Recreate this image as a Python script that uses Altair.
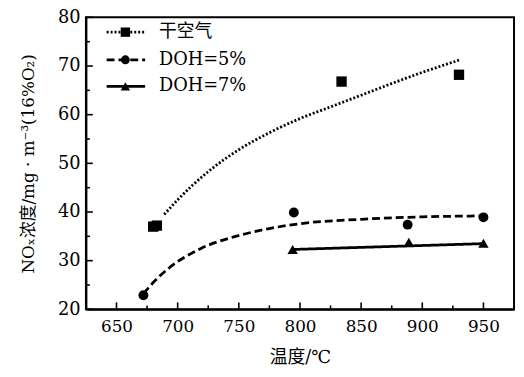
import altair as alt
import pandas as pd

# ---- data ----
series = ["干空气", "DOH=5%", "DOH=7%"]

dry_x = [680, 683, 834, 930]
dry_y = [37.0, 37.2, 66.8, 68.2]
dry_fit_x = [689, 700, 725, 750, 775, 800, 825, 850, 875, 900, 930]
dry_fit_y = [39.5, 42.5, 48.3, 52.8, 56.3, 59.2, 61.6, 64.0, 66.4, 68.7, 71.2]

doh5_x = [672, 795, 888, 950]
doh5_y = [22.9, 39.9, 37.4, 38.9]
doh5_fit_x = [672, 680, 693, 719, 749, 775, 800, 850, 900, 950]
doh5_fit_y = [23.2, 25.5, 28.5, 32.5, 35.1, 36.6, 37.6, 38.5, 39.0, 39.2]

doh7_x = [794, 889, 950]
doh7_y = [32.3, 33.8, 33.6]
doh7_fit_x = [794, 950]
doh7_fit_y = [32.3, 33.5]

x_major = [650, 700, 750, 800, 850, 900, 950]
x_minor = [675, 725, 775, 825, 875, 925]
y_major = [20, 30, 40, 50, 60, 70, 80]
y_minor = [25, 35, 45, 55, 65, 75]

x_title = "温度/℃"
y_title = "NOₓ浓度/mg · m⁻³(16%O₂)"

# ---- style ----
FONT = "DejaVu Serif, Noto Sans CJK SC"
W, H = 434, 296
dashes = [[2, 2], [8, 4], [1, 0]]
shapes = ["square", "circle", "triangle-up"]
sizes = [110, 100, 110]

xs = alt.Scale(domain=[625, 975], nice=False)
ys = alt.Scale(domain=[20, 80], nice=False)

def X(field="x"):
    return alt.X(f"{field}:Q", scale=xs,
                 axis=alt.Axis(values=x_major, title=x_title, format="d"))

def Y(field="y"):
    return alt.Y(f"{field}:Q", scale=ys,
                 axis=alt.Axis(values=y_major, title=y_title, format="d"))

layers = []
fits = [(dry_fit_x, dry_fit_y), (doh5_fit_x, doh5_fit_y), (doh7_fit_x, doh7_fit_y)]
pts = [(dry_x, dry_y), (doh5_x, doh5_y), (doh7_x, doh7_y)]

for i, (fx, fy) in enumerate(fits):
    df = pd.DataFrame({"x": fx, "y": fy})
    layers.append(
        alt.Chart(df).mark_line(color="black", strokeWidth=2.8,
                                strokeDash=dashes[i], interpolate="monotone")
        .encode(x=X(), y=Y())
    )
for i, (px, py) in enumerate(pts):
    df = pd.DataFrame({"x": px, "y": py})
    layers.append(
        alt.Chart(df).mark_point(shape=shapes[i], filled=True, color="black",
                                 opacity=1, size=sizes[i])
        .encode(x=X(), y=Y())
    )

# inward ticks
def xticks(vals, length):
    return alt.Chart(pd.DataFrame({"t": vals})).mark_rule(color="black", strokeWidth=1.6).encode(
        x=alt.X("t:Q", scale=xs), y=alt.value(H), y2=alt.value(H - length))

def yticks(vals, length):
    return alt.Chart(pd.DataFrame({"t": vals})).mark_rule(color="black", strokeWidth=1.6).encode(
        y=alt.Y("t:Q", scale=ys), x=alt.value(0), x2=alt.value(length))

layers += [xticks(x_major, 7), xticks(x_minor, 4), yticks(y_major, 7), yticks(y_minor, 4)]

# legend (top-left, inside)
row_y = [15, 43, 70]
for i, name in enumerate(series):
    ldf = pd.DataFrame({"s": [name]})
    base = alt.Chart(ldf)
    layers.append(base.mark_rule(color="black", strokeWidth=2.8, strokeDash=dashes[i]).encode(
        x=alt.value(21), x2=alt.value(60), y=alt.value(row_y[i])))
    layers.append(base.mark_point(shape=shapes[i], filled=True, color="black", opacity=1,
                                  size=sizes[i] - 20).encode(
        x=alt.value(40), y=alt.value(row_y[i])))
    layers.append(base.mark_text(align="left", baseline="middle", font=FONT, fontSize=18,
                                 color="black").encode(
        x=alt.value(74), y=alt.value(row_y[i]), text="s:N"))

chart = alt.layer(*layers).properties(
    width=W, height=H,
    autosize=alt.AutoSizeParams(type="none"),
    padding={"left": 79, "top": 7, "right": 2, "bottom": 57},
    background="white",
).configure_view(
    stroke="black", strokeWidth=2
).configure_axis(
    grid=False, ticks=False, tickSize=0,
    domainColor="black", domainWidth=2,
    labelFont=FONT, labelColor="black",
    titleFont=FONT, titleColor="black", titleFontWeight="normal",
).configure_axisX(
    labelFontSize=17, labelPadding=9, titleFontSize=18, titlePadding=15,
).configure_axisY(
    labelFontSize=18, labelPadding=6, titleFontSize=17, titlePadding=20,
)

chart.save("out.html", embed_options={"renderer": "svg", "actions": False})
